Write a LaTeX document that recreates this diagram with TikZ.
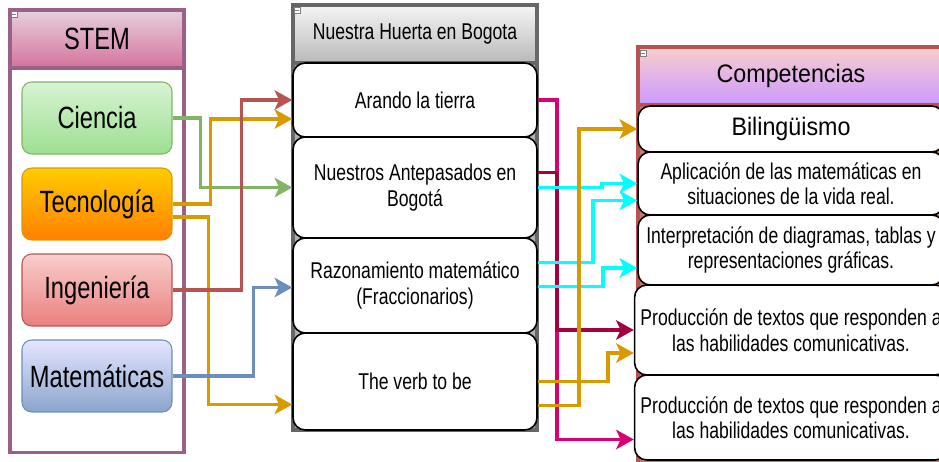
\documentclass[tikz,border=0pt]{standalone}
\usepackage{fontspec}
\setmainfont[FakeStretch=0.77]{Liberation Sans}
\newfontfamily\widesans[FakeStretch=0.92]{Liberation Sans}
\usetikzlibrary{
    arrows.meta,
    calc,
    positioning
}
\definecolor{stemline}{HTML}{996185}
\definecolor{stemtop}{HTML}{E6D0DE}
\definecolor{stembot}{HTML}{D5739D}
\definecolor{huertaline}{HTML}{666666}
\definecolor{comptop}{HTML}{F8CECC}
\definecolor{compbot}{HTML}{CC99FF}
\definecolor{verdec}{HTML}{82B366}
\definecolor{naranja}{HTML}{D79B00}
\definecolor{rojo}{HTML}{B85450}
\definecolor{azul}{HTML}{6C8EBF}
\definecolor{magenta}{HTML}{D80073}
\definecolor{carmin}{HTML}{A50040}
\definecolor{cian}{HTML}{00FFFF}
\tikzset{
    lnk/.style={line width=2.1pt, -{Stealth[length=10pt,width=11pt,inset=2.5pt]}},
    bigtxt/.style={font=\fontsize{17.5pt}{20pt}\selectfont},
    smalltxt/.style={font=\fontsize{13pt}{14.5pt}\selectfont, align=center},
    stemitem/.style={draw=#1, line width=0.6pt, rounded corners=5.5pt,
        minimum width=3cm, minimum height=1.44cm, bigtxt},
    huertaitem/.style={draw=black, fill=white, line width=0.9pt, rounded corners=7pt,
        minimum width=4.88cm, minimum height=#1, smalltxt},
    compitem/.style={draw=black, fill=white, line width=0.9pt, rounded corners=7pt,
        minimum width=6.12cm, minimum height=#1, smalltxt},
    minbox/.style={draw=gray, fill=white, line width=0.3pt, minimum size=0.12cm, inner sep=0pt,
        path picture={\draw[gray, line width=0.3pt]
            ([xshift=0.6pt]path picture bounding box.west) -- ([xshift=-0.6pt]path picture bounding box.east);}}
}

\begin{document}
\begin{tikzpicture}[x=0.02cm, y=-0.02cm]
    \useasboundingbox (0,0) rectangle (939,462);
    \clip (0,0) rectangle (939,462);
    % STEM
    \node[draw=stemline, fill=white, line width=1.9pt, minimum width=3.48cm, minimum height=8.86cm] (stem) at (97,231) {};
    \node[draw=stemline, line width=1.9pt, top color=stemtop, bottom color=stembot,
        minimum width=3.48cm, minimum height=1.16cm, bigtxt] (stemhd) at (97,39) {STEM};
    \node[minbox] (stemmin) at (14,14) {};
    \node[stemitem=verdec, top color=green!10!white!85!verdec, bottom color=verdec!70!green!60!white] (cien) at (97,118) {Ciencia};
    \node[stemitem=naranja, top color=orange!40!yellow, bottom color=orange] (tecn) at (97,204) {Tecnología};
    \node[stemitem=rojo, top color=comptop, bottom color=red!50!rojo!60!white] (inge) at (97,290) {Ingeniería};
    \node[stemitem=azul, top color=blue!10!white, bottom color=azul!80!white] (mate) at (97,376) {Matemáticas};
    % Nuestra Huerta
    \node[draw=huertaline, fill=gray!60, line width=1.9pt, minimum width=4.88cm, minimum height=8.5cm] (huerta) at (415,217.5) {};
    \node[draw=huertaline, line width=1.9pt, top color=gray!8, bottom color=gray!55,
        minimum width=4.88cm, minimum height=1.16cm, smalltxt] (huertahd) at (415,34) {Nuestra Huerta en Bogota};
    \node[minbox] (huertamin) at (297,10) {};
    \node[huertaitem=1.48cm] (arando) at (415,100) {Arando la tierra};
    \node[huertaitem=2.02cm] (ante) at (415,187.5) {Nuestros Antepasados en\\Bogotá};
    \node[huertaitem=1.9cm] (razo) at (415,285.5) {Razonamiento matemático\\(Fraccionarios)};
    \node[huertaitem=1.94cm] (verb) at (415,381.5) {The verb to be};
    % Competencias
    \node[draw=rojo, fill=rojo!80, line width=1.9pt, minimum width=6.12cm, minimum height=8.4cm] (comp) at (791,257) {};
    \node[draw=rojo, line width=1.9pt, top color=comptop, bottom color=compbot,
        minimum width=6.12cm, minimum height=1.16cm, font=\widesans\fontsize{14.4pt}{16pt}\selectfont] (comphd) at (791,76) {Competencias};
    \node[minbox] (compmin) at (643,53) {};
    \node[compitem=0.92cm, font=\widesans\fontsize{14.4pt}{16pt}\selectfont] (bili) at (791,129) {Bilingüismo};
    \node[compitem=1.26cm] (apli) at (791,183.5) {Aplicación de las matemáticas en\\situaciones de la vida real.};
    \node[compitem=1.4cm] (inte) at (791,250) {Interpretación de diagramas, tablas y\\representaciones gráficas.};
    \node[compitem=1.8cm] (prod1) at (791,330) {Producción de textos que responden a\\las habilidades comunicativas.};
    \node[compitem=1.7cm] (prod2) at (791,417.5) {Producción de textos que responden a\\las habilidades comunicativas.};
    % STEM -> Huerta
    \draw[lnk, verdec] (cien.east) -- ++(28,0) |- (ante.west);
    \draw[lnk, naranja] (tecn.east) -- ++(38,0) |- ($(arando.west)+(0,19)$);
    \draw[lnk, naranja] ($(tecn.east)+(0,13)$) -- ++(36,0) |- ($(verb.west)+(0,23)$);
    \draw[lnk, rojo] (inge.east) -- ++(69,0) |- (arando.west);
    \draw[lnk, azul] (mate.east) -- ++(81,0) |- ($(razo.west)+(0,2)$);
    % Huerta -> Competencias
    \draw[lnk, magenta] (arando.east) -- ++(19,0) |- ($(prod2.west)+(0,22)$);
    \draw[lnk, carmin] ($(ante.east)+(0,-15)$) -- ++(19,0) |- (prod1.west);
    \draw[lnk, cian] (ante.east) -- ++(64,0) |- (apli.west);
    \draw[lnk, cian] ($(razo.east)+(0,-23)$) -- ++(55,0) |- ($(apli.west)+(0,17)$);
    \draw[lnk, cian] ($(razo.east)+(0,1)$) -- ++(65,0) |- ($(inte.west)+(0,18)$);
    \draw[lnk, naranja] ($(verb.east)+(0,24)$) -- ++(41,0) |- (bili.west);
    \draw[lnk, naranja] (verb.east) -- ++(70,0) |- ($(prod1.west)+(0,23)$);
\end{tikzpicture}
\end{document}
